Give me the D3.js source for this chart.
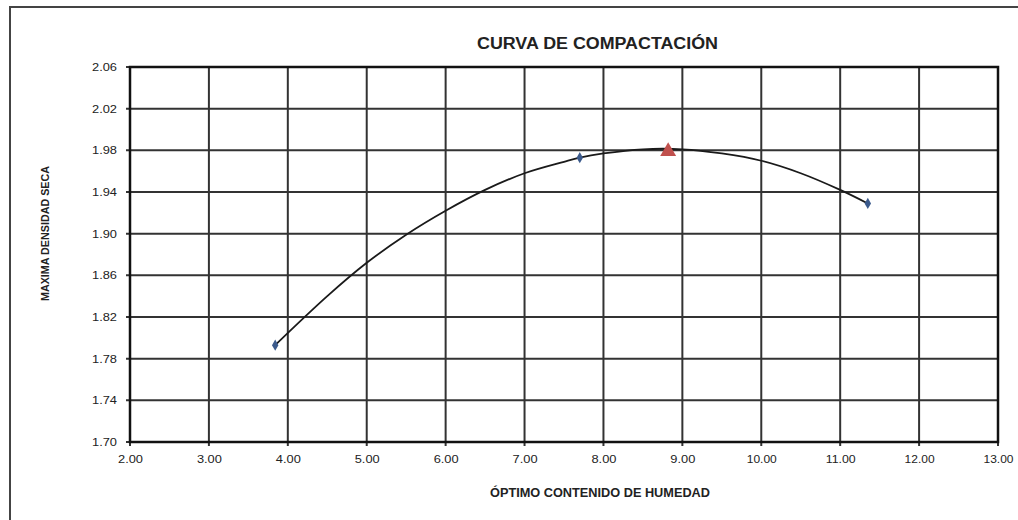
<!DOCTYPE html>
<html>
<head>
<meta charset="utf-8">
<script src="https://cdn.jsdelivr.net/npm/d3@7/dist/d3.min.js"></script>
<style>
body { margin: 0; background: #fff; }
svg { display: block; }
text { font-family: "Liberation Sans", Arial, sans-serif; fill: #222; }
</style>
</head>
<body>
<svg id="chart" width="1018" height="520"></svg>
<script>
const title = "CURVA DE COMPACTACIÓN";
const xTitle = "ÓPTIMO CONTENIDO DE HUMEDAD";
const yTitle = "MAXIMA DENSIDAD SECA";

const xTicks = [2, 3, 4, 5, 6, 7, 8, 9, 10, 11, 12, 13];
const yTicks = [1.70, 1.74, 1.78, 1.82, 1.86, 1.90, 1.94, 1.98, 2.02, 2.06];

// measured points
const pointX = [3.84, 7.70, 11.35];
const pointY = [1.793, 1.973, 1.929];

// maximum (optimum)
const maxX = [8.82];
const maxY = [1.979];

// fitted curve
const curveX = [3.84, 4.5, 5.0, 5.5, 6.0, 6.5, 7.0, 7.5, 7.7, 8.0, 8.5, 9.0, 9.5, 10.0, 10.5, 11.0, 11.35];
const curveY = [1.793, 1.840, 1.872, 1.899, 1.922, 1.942, 1.958, 1.969, 1.973, 1.977, 1.981, 1.981, 1.977, 1.970, 1.958, 1.942, 1.929];

const svg = d3.select("#chart");
const m = { left: 130, top: 67, right: 998, bottom: 442 };

const x = d3.scaleLinear().domain([2, 13]).range([m.left, m.right]);
const y = d3.scaleLinear().domain([1.70, 2.06]).range([m.bottom, m.top]);

// outer frame
svg.append("rect").attr("x", 10).attr("y", 7).attr("width", 1030).attr("height", 530)
  .attr("fill", "none").attr("stroke", "#444").attr("stroke-width", 2);

// grid
const g = svg.append("g");
g.selectAll("line.vx").data(xTicks).join("line")
  .attr("x1", d => x(d)).attr("x2", d => x(d))
  .attr("y1", m.top).attr("y2", m.bottom + 4)
  .attr("stroke", "#333").attr("stroke-width", 2);
g.selectAll("line.hy").data(yTicks).join("line")
  .attr("x1", m.left - 4).attr("x2", m.right)
  .attr("y1", d => y(d)).attr("y2", d => y(d))
  .attr("stroke", "#333").attr("stroke-width", 2);

// axes labels via d3 axes
const xAxis = d3.axisBottom(x).tickValues(xTicks).tickFormat(d3.format(".2f")).tickSize(0).tickPadding(13);
const yAxis = d3.axisLeft(y).tickValues(yTicks).tickFormat(d3.format(".2f")).tickSize(0).tickPadding(13);
const xa = svg.append("g").attr("transform", `translate(0,${m.bottom})`).call(xAxis);
const ya = svg.append("g").attr("transform", `translate(${m.left},0)`).call(yAxis);
[xa, ya].forEach(a => {
  a.select(".domain").remove();
  a.selectAll("text").attr("font-size", 11).attr("fill", "#222")
    .attr("textLength", function () { return this.textContent.length > 4 ? 30 : 25; })
    .attr("lengthAdjust", "spacingAndGlyphs")
    .style("font-family", "'Liberation Sans', Arial, sans-serif");
});

// plot border
svg.append("rect").attr("x", m.left).attr("y", m.top)
  .attr("width", m.right - m.left).attr("height", m.bottom - m.top)
  .attr("fill", "none").attr("stroke", "#111").attr("stroke-width", 2.5);

// curve
const curveData = curveX.map((d, i) => [d, curveY[i]]);
svg.append("path").datum(curveData)
  .attr("d", d3.line().x(d => x(d[0])).y(d => y(d[1])).curve(d3.curveCatmullRom))
  .attr("fill", "none").attr("stroke", "#1a1a1a").attr("stroke-width", 1.8);

// points
const pts = pointX.map((d, i) => [d, pointY[i]]);
svg.selectAll("path.pt").data(pts).join("path")
  .attr("d", d3.symbol().type(d3.symbolDiamond).size(36))
  .attr("transform", d => `translate(${x(d[0])},${y(d[1])})`)
  .attr("fill", "#3b5a8c");

// max triangle
const mx = maxX.map((d, i) => [d, maxY[i]]);
svg.selectAll("path.mx").data(mx).join("path")
  .attr("d", d3.symbol().type(d3.symbolTriangle).size(110))
  .attr("transform", d => `translate(${x(d[0])},${y(d[1])})`)
  .attr("fill", "#c0504d");

// titles
svg.append("text").attr("x", 477).attr("y", 49)
  .attr("font-size", 16).attr("font-weight", "bold")
  .attr("textLength", 241).attr("lengthAdjust", "spacingAndGlyphs").text(title);
svg.append("text").attr("x", 490).attr("y", 497)
  .attr("font-size", 12).attr("font-weight", "bold")
  .attr("textLength", 220).attr("lengthAdjust", "spacingAndGlyphs").text(xTitle);
svg.append("text").attr("transform", "translate(49,301) rotate(-90)")
  .attr("font-size", 11).attr("font-weight", "bold")
  .attr("textLength", 135).attr("lengthAdjust", "spacingAndGlyphs").text(yTitle);
</script>
</body>
</html>
